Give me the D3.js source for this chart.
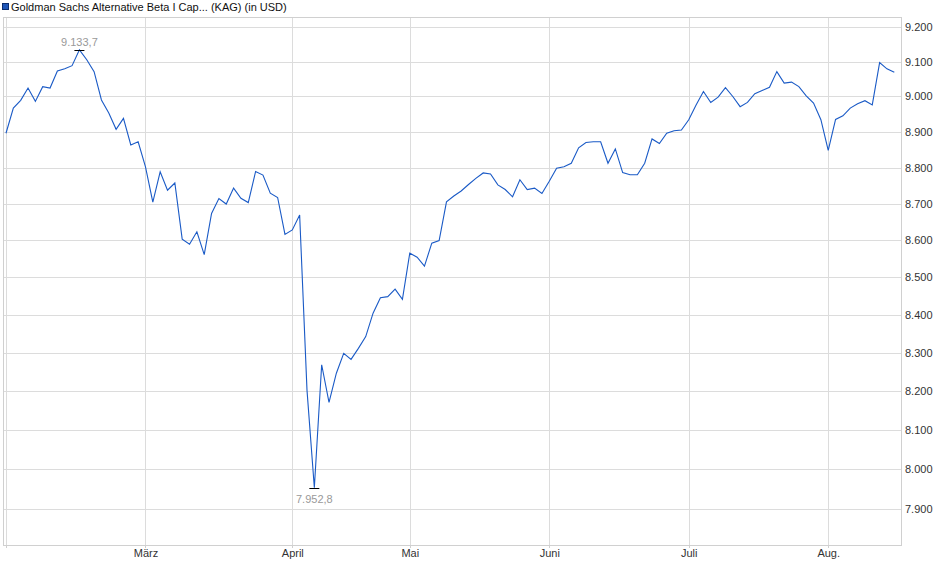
<!DOCTYPE html>
<html>
<head>
<meta charset="utf-8">
<script src="https://cdn.jsdelivr.net/npm/d3@7"></script>
<style>
  body { margin: 0; background: #fff; }
  svg { display: block; font-family: "Liberation Sans", Arial, sans-serif; }
</style>
</head>
<body>
<svg id="chart" width="940" height="579"></svg>
<script>
// data (fund price in USD, one value per trading day)
var title = 'Goldman Sachs Alternative Beta I Cap... (KAG) (in USD)';
var monthLabels = ['Feb.', 'März', 'April', 'Mai', 'Juni', 'Juli', 'Aug.'];
var feb = [8896, 8967, 8989, 9024, 8986, 9028, 9024, 9073, 9079, 9088, 9133.7, 9105, 9071, 8990, 8953, 8907, 8938, 8863, 8872];
var mar = [8802, 8704, 8788, 8737, 8757, 8603, 8589, 8623, 8561, 8673, 8714, 8699, 8743, 8715, 8703, 8789, 8779, 8729, 8717, 8616];
var apr = [8628, 8669, 8202, 7952.8, 8268, 8170, 8246, 8298, 8282, 8311, 8342, 8404, 8445, 8448, 8468, 8441];
var may = [8565, 8554, 8530, 8592, 8599, 8705, 8721, 8735, 8753, 8770, 8785, 8782, 8752, 8739, 8719, 8766, 8739, 8743, 8728];
var jun = [8762, 8798, 8802, 8812, 8855, 8870, 8872, 8872, 8812, 8852, 8786, 8780, 8780, 8812, 8880, 8867, 8896, 8903, 8905];
var jul = [8934, 8976, 9014, 8983, 8998, 9025, 9000, 8971, 8983, 9008, 9017, 9026, 9071, 9038, 9041, 9028, 9002, 8981, 8934];
var aug = [8848, 8935, 8945, 8967, 8979, 8988, 8976, 9097, 9079, 9069];
var yTicks = [7900, 8000, 8100, 8200, 8300, 8400, 8500, 8600, 8700, 8800, 8900, 9000, 9100, 9200];
var yDomain = [7810, 9229];

var months = [feb, mar, apr, may, jun, jul, aug];
var values = [];
var monthStart = [];
months.forEach(function(m) {
    monthStart.push(values.length);
    values = values.concat(m);
});

var de = d3.formatLocale({decimal: ',', thousands: '.', grouping: [3], currency: ['', ' €']});
var fmtTick = de.format(',.0f');
var fmtVal = de.format(',.1f');

var svg = d3.select('#chart');
// plot box
var box = {left: 3, right: 901, top: 17, bottom: 545};

var x = d3.scaleLinear().domain([0, values.length - 1]).range([6, 894.3]);
var y = d3.scaleLog().domain(yDomain).range([box.bottom, box.top]);

// legend
svg.append('rect')
    .attr('x', 2.5).attr('y', 3.5).attr('width', 6).attr('height', 6)
    .attr('fill', '#1f56b8').attr('stroke', '#0b2d6e');
svg.append('text')
    .attr('x', 11).attr('y', 10.5)
    .attr('font-size', 11).attr('fill', '#111')
    .text(title);

// y grid + labels
var yAxis = svg.append('g')
    .attr('transform', 'translate(' + box.right + ',0)')
    .call(d3.axisRight(y).tickValues(yTicks).tickFormat(fmtTick)
        .tickSizeInner(-(box.right - box.left)).tickSizeOuter(0).tickPadding(4));
yAxis.select('.domain').remove();
yAxis.selectAll('line').attr('stroke', '#dcdcdc').attr('shape-rendering', 'crispEdges');
yAxis.selectAll('text').attr('font-size', 11).attr('fill', '#333')
    .attr('font-family', '"Liberation Sans", Arial, sans-serif');

// x grid
var xGrid = svg.append('g')
    .attr('transform', 'translate(0,' + box.bottom + ')')
    .call(d3.axisBottom(x).tickValues(monthStart).tickFormat('')
        .tickSizeInner(-(box.bottom - box.top)).tickSizeOuter(0));
xGrid.select('.domain').remove();
xGrid.selectAll('line').attr('stroke', '#dcdcdc').attr('shape-rendering', 'crispEdges');

// x ticks + month labels
var xAxis = svg.append('g')
    .attr('transform', 'translate(0,' + box.bottom + ')')
    .call(d3.axisBottom(x).tickValues(monthStart)
        .tickFormat(function(d, i) { return monthLabels[i]; })
        .tickSizeInner(3).tickSizeOuter(0).tickPadding(1));
xAxis.select('.domain').remove();
xAxis.selectAll('line').attr('stroke', '#cfcfcf').attr('shape-rendering', 'crispEdges');
xAxis.selectAll('text').attr('font-size', 11).attr('fill', '#333')
    .attr('font-family', '"Liberation Sans", Arial, sans-serif');
// a label that would stick out of the left edge is not shown
xAxis.selectAll('.tick').each(function(d) {
    var t = d3.select(this).select('text');
    if (x(d) - t.node().getComputedTextLength() / 2 < box.left) t.remove();
});

// frame
svg.append('rect')
    .attr('x', box.left + 0.5).attr('y', box.top + 0.5)
    .attr('width', box.right - box.left).attr('height', box.bottom - box.top)
    .attr('fill', 'none').attr('stroke', '#d0d0d0');

// price line
svg.append('path')
    .datum(values)
    .attr('fill', 'none')
    .attr('stroke', '#1a5ac6')
    .attr('stroke-width', 1.1)
    .attr('d', d3.line().x(function(d, i) { return x(i); }).y(function(d) { return y(d); }));

// high / low markers
var iMax = d3.maxIndex(values), iMin = d3.minIndex(values);
[[iMax, -1], [iMin, 1]].forEach(function(p) {
    var i = p[0], dir = p[1];
    var yy = Math.round(y(values[i])) + 0.5;
    svg.append('line')
        .attr('x1', x(i) - 5).attr('x2', x(i) + 5)
        .attr('y1', yy).attr('y2', yy)
        .attr('stroke', '#000').attr('stroke-width', 1);
    svg.append('text')
        .attr('x', x(i))
        .attr('y', yy + (dir < 0 ? -5 : 14))
        .attr('text-anchor', 'middle')
        .attr('font-size', 11).attr('fill', '#999')
        .text(fmtVal(values[i]));
});
</script>
</body>
</html>
